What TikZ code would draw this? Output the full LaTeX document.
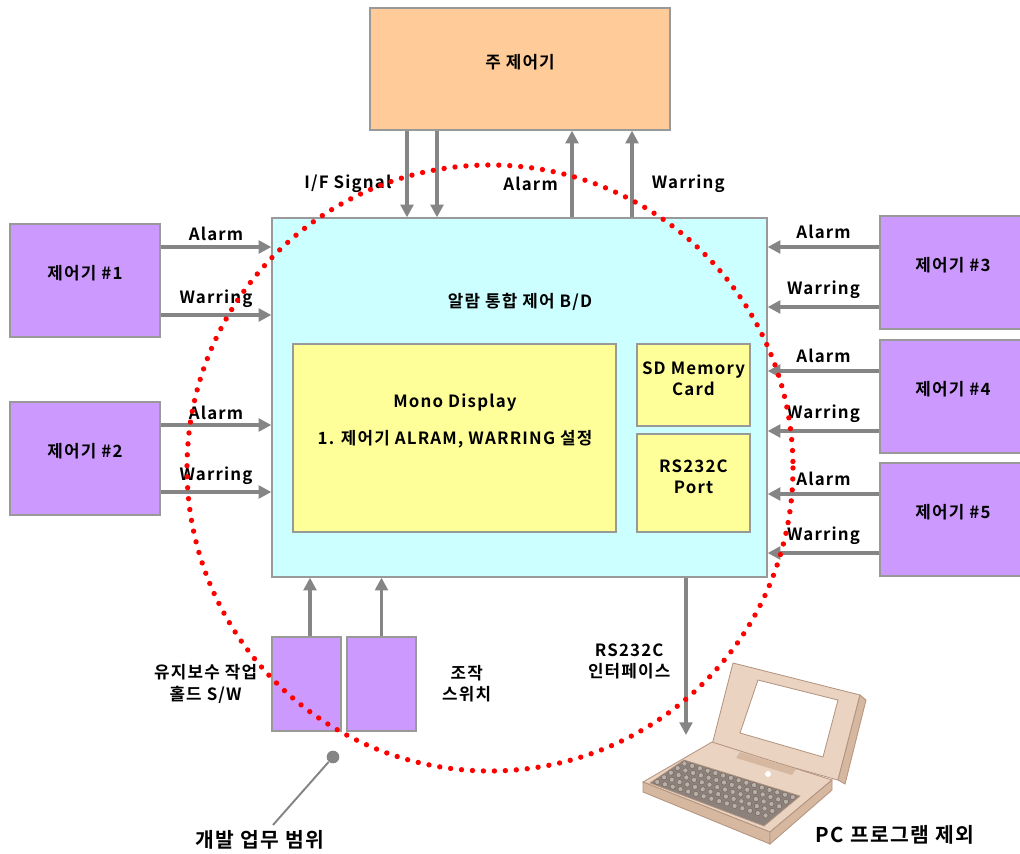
\documentclass[tikz,border=0pt]{standalone}
\usepackage{fontspec}
\setmainfont{Noto Sans CJK KR}[BoldFont={Noto Sans CJK KR Bold}, LetterSpace=7]
\usetikzlibrary{arrows.meta, fit, calc, positioning}

\definecolor{ctrlpurple}{HTML}{CC99FF}
\definecolor{hostorange}{HTML}{FFCC99}
\definecolor{boardcyan}{HTML}{CCFFFF}
\definecolor{partyellow}{HTML}{FFFF99}
\definecolor{edgegray}{HTML}{999999}
\definecolor{wiregray}{HTML}{858585}
\definecolor{dotred}{HTML}{FF0000}
\definecolor{pcbody}{HTML}{EBD3C1}
\definecolor{pcshade}{HTML}{D6B8A1}
\definecolor{pcline}{HTML}{B39580}
\definecolor{pckey}{HTML}{6F625A}
\definecolor{pckeytop}{HTML}{B9B0A8}

\begin{document}
\begin{tikzpicture}[
    x=0.025cm, y=-0.025cm,
    blk/.style={rectangle, draw=edgegray, line width=0.9pt, fill=#1, inner sep=0pt,
                align=center, font=\bfseries\fontsize{12}{15}\selectfont},
    sig/.style={-{Triangle[length=9pt, width=9pt]}, line width=2.2pt, draw=wiregray},
    tag/.style={font=\bfseries\fontsize{12}{15}\selectfont, inner sep=1pt},
    bigtag/.style={font=\bfseries\fontsize{14.5}{18}\selectfont, inner sep=1pt},
    ring/.style={draw=dotred, line width=3.8pt, line cap=round, dash pattern=on 0pt off 7.8pt}
]
\useasboundingbox (0,0) rectangle (1020,854);

% host controller and alarm board
\node[blk=hostorange, fit={(370,8) (670,130)}] (host) {주 제어기};
\node[blk=boardcyan, fit={(272,218) (767,577)}] (bd) {};
\node[tag] (bdname) at (520,302) {알람 통합 제어 B/D};

% parts on the board
\node[blk=partyellow, fit={(293,344) (616,532)}] (disp) {};
\node[tag, align=center, font=\bfseries\fontsize{12}{26}\selectfont] (disptext) at (455,421)
    {Mono Display\\1. 제어기 ALRAM, WARRING 설정};
\node[blk=partyellow, fit={(637,344) (750,426)}] (sd) {SD Memory\\Card};
\node[blk=partyellow, fit={(637,434) (750,532)}] (rs) {RS232C\\Port};

% sub controllers
\node[blk=ctrlpurple, fit={(10,224) (160,337)}] (c1) {제어기 \#1};
\node[blk=ctrlpurple, fit={(10,402) (160,515)}] (c2) {제어기 \#2};
\node[blk=ctrlpurple, fit={(880,216) (1026,329)}] (c3) {제어기 \#3};
\node[blk=ctrlpurple, fit={(880,340) (1026,453)}] (c4) {제어기 \#4};
\node[blk=ctrlpurple, fit={(880,463) (1026,576)}] (c5) {제어기 \#5};

% switches under the board
\node[blk=ctrlpurple, fit={(272,637) (341,731)}] (hold) {};
\node[blk=ctrlpurple, fit={(347,637) (416,731)}] (opsw) {};
\node[tag, align=center, left=9pt of hold] (holdname) {유지보수 작업\\홀드 S/W};
\node[tag, align=center, right=17pt of opsw] (opswname) {조작\\스위치};

% signals to and from the host
\draw[sig] (host.south -| 407,0) -- (bd.north -| 407,0)
    node[tag, pos=0.61, left=9pt] {I/F Signal};
\draw[sig] (host.south -| 437,0) -- (bd.north -| 437,0);
\draw[sig] (bd.north -| 572,0) -- (host.south -| 572,0)
    node[tag, pos=0.39, left=8pt] {Alarm};
\draw[sig] (bd.north -| 632,0) -- (host.south -| 632,0)
    node[tag, pos=0.39, right=12pt] {Warring};

% left controllers
\draw[sig] (c1.east |- 0,247) -- (bd.west |- 0,247) node[tag, midway, above=2pt] {Alarm};
\draw[sig] (c1.east |- 0,315) -- (bd.west |- 0,315) node[tag, midway, above=3pt] {Warring};
\draw[sig] (c2.east |- 0,425) -- (bd.west |- 0,425) node[tag, midway, above=2pt] {Alarm};
\draw[sig] (c2.east |- 0,492) -- (bd.west |- 0,492) node[tag, midway, above=3pt] {Warring};

% right controllers
\draw[sig] (c3.west |- 0,247) -- (bd.east |- 0,247) node[tag, midway, above=4pt] {Alarm};
\draw[sig] (c3.west |- 0,307) -- (bd.east |- 0,307) node[tag, midway, above=4pt] {Warring};
\draw[sig] (c4.west |- 0,371) -- (bd.east |- 0,371) node[tag, midway, above=4pt] {Alarm};
\draw[sig] (c4.west |- 0,431) -- (bd.east |- 0,431) node[tag, midway, above=4pt] {Warring};
\draw[sig] (c5.west |- 0,494) -- (bd.east |- 0,494) node[tag, midway, above=4pt] {Alarm};
\draw[sig] (c5.west |- 0,553) -- (bd.east |- 0,553) node[tag, midway, above=4pt] {Warring};

% switch inputs
\draw[sig] (hold.north -| 310,0) -- (bd.south -| 310,0);
\draw[sig] (opsw.north) -- (opsw.north |- bd.south);

% serial link to the pc
\coordinate (pcport) at (686,735);
\draw[sig] (bd.south -| pcport) -- (pcport)
    node[tag, pos=0.53, left=9pt, align=center] {RS232C\\인터페이스};

% development scope
\draw[ring] (490,468) circle[radius=303];
\node[circle, fill=wiregray, inner sep=0pt, minimum size=9pt] (pin) at (333,757) {};
\node[bigtag] (scopename) at (260,840) {개발 업무 범위};
\coordinate (pinend) at (273,825);
\draw[wiregray, line width=1.4pt] (pin) -- (pinend);

% laptop
\filldraw[fill=pcbody, draw=pcline, line width=0.6pt]
    (733,663) -- (860,695) -- (838,780) -- (712,745) -- cycle;
\filldraw[fill=pcshade, draw=pcline, line width=0.6pt]
    (860,695) -- (866,700) -- (845,784) -- (838,780) -- cycle;
\filldraw[fill=white, draw=pcline, line width=0.6pt]
    (758,680) -- (838,700) -- (823,757) -- (740,733) -- cycle;
\filldraw[fill=pcbody, draw=pcline, line width=0.6pt]
    (712,742) -- (832,780) -- (770,832) -- (643,782) -- cycle;
\filldraw[fill=pcshade, draw=pcline, line width=0.6pt]
    (643,782) -- (770,832) -- (770,844) -- (643,792) -- cycle;
\filldraw[fill=pcshade, draw=pcline, line width=0.6pt]
    (770,832) -- (832,780) -- (832,790) -- (770,844) -- cycle;
\fill[pcshade] (740,752) -- (796,769) -- (792,775) -- (736,758) -- cycle;
\fill[white] (768,774) circle[radius=3];
\filldraw[fill=pckey!80, draw=pcline, line width=0.5pt]
    (684,760) -- (800,796) -- (764,826) -- (650,783) -- cycle;
\coordinate (kb0) at (684,760);
\coordinate (ku) at (116,36);
\coordinate (kv) at (-34,23);
\foreach \r in {0,...,4}{
  \foreach \c in {0,...,14}{
    \filldraw[fill=pckeytop, draw=pckey, line width=0.3pt]
      ($(kb0) + {(\c+0.5)/15}*(ku) + {(\r+0.5)/5}*(kv)$) circle[radius=2.6];
  }
}
\node[bigtag] (pcname) at (895,835) {PC 프로그램 제외};

\end{tikzpicture}
\end{document}
